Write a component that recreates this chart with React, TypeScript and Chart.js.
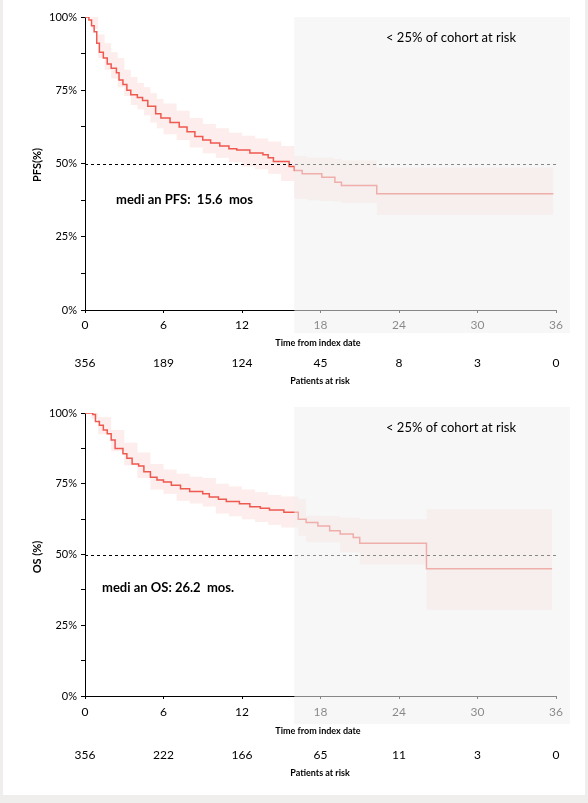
import React, { useEffect, useRef } from 'react';
import { Chart, registerables } from 'chart.js';

Chart.register(...registerables);

const FONT = 'Lato, "Open Sans", sans-serif';

const xTicks = [0, 6, 12, 18, 24, 30, 36];
const yTicks = [0, 12.5, 25, 37.5, 50, 62.5, 75, 87.5, 100];

// PFS Kaplan-Meier (months, %)
const pfsTime = [0, 0.3, 0.5, 0.7, 0.9, 1.1, 1.4, 1.7, 2.0, 2.4, 2.6, 2.9, 3.2, 3.5, 4.0, 4.4, 4.8, 5.4, 5.8, 6.5, 7.2, 7.8, 8.4, 9.0, 9.6, 10.3, 11.0, 11.6, 12.6, 13.6, 14.0, 14.4, 15.6, 16.0, 16.6, 18.1, 19.1, 19.6, 22.3, 35.8];
const pfsSurv = [100, 99, 97, 95, 91, 88, 86, 84, 82.5, 81, 78.5, 77, 75, 73.5, 72.5, 71.5, 69.5, 67, 65.5, 64, 62.5, 60.8, 59.2, 58, 57, 56, 55, 54.6, 53.6, 53, 52, 50.7, 49, 47.6, 46.5, 45.3, 43.6, 42.5, 39.7, 39.7];
const pfsCiTime = [0, 0.5, 1.0, 1.5, 2.0, 2.5, 3.0, 3.5, 4.0, 4.5, 5.0, 5.5, 6.0, 7.0, 8.0, 9.0, 10.0, 11.0, 12.0, 13.0, 14.0, 15.0, 16.0, 17.0, 18.0, 19.0, 19.6, 22.3, 35.8];
const pfsUpper = [100, 100, 94, 91, 88, 86, 82, 79.5, 77.5, 76, 74, 72, 70.5, 68, 65.5, 63.5, 62, 60.5, 59.5, 58.5, 57.5, 56, 52.5, 52, 52, 51.5, 51, 48.6, 48.6];
const pfsLower = [100, 96, 86, 82, 79, 76, 73, 70, 68.5, 66.5, 64, 62, 60, 58, 55.5, 53.5, 52, 50.5, 49, 48, 46.5, 44, 38, 37.5, 37.2, 37, 36.5, 32.5, 32.5];
const pfsAtRisk = [356, 189, 124, 45, 8, 3, 0];

// OS Kaplan-Meier (months, %)
const osTime = [0, 0.6, 0.8, 1.1, 1.4, 1.7, 2.0, 2.3, 2.9, 3.2, 3.6, 4.1, 4.5, 5.0, 5.5, 6.0, 6.6, 7.3, 8.0, 9.0, 9.5, 10.2, 10.8, 11.8, 12.6, 13.4, 14.1, 15.2, 16.3, 16.9, 17.8, 18.7, 19.5, 20.5, 21.0, 26.1, 35.7];
const osSurv = [100, 99.5, 97, 95.7, 94, 92.7, 90.5, 87.5, 85.6, 84, 82, 81.3, 79.2, 77.3, 76.3, 75.6, 74.5, 73.2, 72.3, 71.5, 70.3, 69.5, 68.7, 67.9, 66.9, 66.3, 65.7, 64.9, 62.5, 61.3, 60.1, 58.4, 57.2, 56, 54, 45, 45];
const osCiTime = [0, 0.5, 1.0, 2.0, 3.0, 4.0, 5.0, 6.0, 7.0, 8.0, 9.0, 10.0, 11.0, 12.0, 13.0, 14.0, 15.0, 16.3, 16.9, 18.0, 19.5, 21.0, 26.1, 35.7];
const osUpper = [100, 100, 98.5, 94, 89.5, 86, 82, 80, 78.5, 77.5, 77, 75, 74, 73, 72, 71, 70.5, 69.6, 63.7, 63.5, 63, 62.5, 66, 66];
const osLower = [100, 98, 92.5, 86.5, 81.5, 77, 73, 71.5, 69, 68, 67, 64.5, 63.5, 62.5, 61.5, 60.5, 59.5, 56.6, 54.3, 54.3, 50.8, 46.5, 30.5, 30.5];
const osAtRisk = [356, 222, 166, 65, 11, 3, 0];

const LINE = '#f05a50';
const BAND = 'rgba(240,90,80,0.11)';

type Cfg = {
  top: number;
  height: number;
  areaTop: number;
  areaBottom: number;
  time: number[];
  surv: number[];
  ciTime: number[];
  upper: number[];
  lower: number[];
  atRisk: number[];
  yTitle: string;
  median: string;
  medianX: number;
  medianY: number;
  yTitleY: number;
  xTitleY: number;
  riskY: number;
  riskTitleY: number;
  noteY: number;
  overlayTop: number;
  overlayBottom: number;
  tickPad: number;
};

const pts = (xs: number[], ys: number[]) => xs.map((x, i) => ({ x, y: ys[i] }));

function KM({ cfg }: { cfg: Cfg }) {
  const ref = useRef<HTMLCanvasElement | null>(null);
  useEffect(() => {
    if (!ref.current) return;
    const deco = {
      id: 'deco',
      afterDatasetsDraw(chart: any) {
        const { ctx, chartArea, scales } = chart;
        const y50 = scales.y.getPixelForValue(50);
        ctx.save();
        ctx.strokeStyle = '#000';
        ctx.lineWidth = 1;
        ctx.setLineDash([3, 3]);
        ctx.beginPath();
        ctx.moveTo(chartArea.left, Math.round(y50) + 0.5);
        ctx.lineTo(chartArea.right, Math.round(y50) + 0.5);
        ctx.stroke();
        ctx.restore();
      },
      afterDraw(chart: any) {
        const { ctx, chartArea, scales } = chart;
        const xs = scales.x;
        ctx.save();
        // overlay for < 25% at risk region
        const ox = xs.getPixelForValue(16);
        ctx.fillStyle = 'rgba(240,240,240,0.56)';
        ctx.fillRect(ox, cfg.overlayTop, chartArea.right + 14 - ox, cfg.overlayBottom - cfg.overlayTop);

        ctx.fillStyle = '#000';
        ctx.textBaseline = 'middle';
        ctx.textAlign = 'left';
        ctx.font = `13px ${FONT}`;
        ctx.fillText('< 25% of cohort at risk', 386, cfg.noteY);
        ctx.font = `bold 13px ${FONT}`;
        ctx.fillText(cfg.median, cfg.medianX, cfg.medianY);
        ctx.textAlign = 'center';
        ctx.font = `bold 9px ${FONT}`;
        ctx.fillText('Time from index date', 318, cfg.xTitleY);
        ctx.fillText('Patients at risk', 320, cfg.riskTitleY);
        ctx.font = `12px ${FONT}`;
        xTicks.forEach((t, i) => {
          ctx.fillText(String(cfg.atRisk[i]), xs.getPixelForValue(t), cfg.riskY);
        });
        ctx.translate(37, cfg.yTitleY);
        ctx.rotate(-Math.PI / 2);
        ctx.font = `bold 11px ${FONT}`;
        ctx.fillText(cfg.yTitle, 0, 0);
        ctx.restore();
      },
    };
    const chart = new Chart(ref.current, {
      type: 'line',
      data: {
        datasets: [
          {
            data: pts(cfg.ciTime, cfg.upper),
            borderWidth: 0,
            borderColor: 'rgba(0,0,0,0)',
            pointRadius: 0,
            stepped: 'before',
            fill: false,
          },
          {
            data: pts(cfg.ciTime, cfg.lower),
            borderWidth: 0,
            borderColor: 'rgba(0,0,0,0)',
            backgroundColor: BAND,
            pointRadius: 0,
            stepped: 'before',
            fill: '-1',
          },
          {
            data: pts(cfg.time, cfg.surv),
            borderColor: LINE,
            borderWidth: 1.5,
            pointRadius: 0,
            stepped: 'before',
            fill: false,
          },
        ],
      } as any,
      options: {
        animation: false,
        responsive: false,
        maintainAspectRatio: false,
        layout: { padding: { top: cfg.areaTop, right: 32, left: 0, bottom: 0 } },
        plugins: { legend: { display: false }, tooltip: { enabled: false } },
        scales: {
          x: {
            type: 'linear',
            min: 0,
            max: 36,
            afterBuildTicks: (s: any) => {
              s.ticks = xTicks.map((v) => ({ value: v }));
            },
            afterFit: (s: any) => {
              s.height = cfg.height - cfg.areaBottom;
            },
            grid: { drawOnChartArea: false, drawTicks: true, tickLength: 3, color: '#000' },
            border: { display: true, color: '#000', width: 1 },
            ticks: {
              color: '#000',
              font: { family: FONT, size: 12 },
              padding: cfg.tickPad,
              maxRotation: 0,
              autoSkip: false,
            },
          },
          y: {
            type: 'linear',
            min: 0,
            max: 100,
            afterBuildTicks: (s: any) => {
              s.ticks = yTicks.map((v) => ({ value: v }));
            },
            afterFit: (s: any) => {
              s.width = 85;
            },
            grid: { drawOnChartArea: false, drawTicks: true, tickLength: 4, color: '#000' },
            border: { display: true, color: '#000', width: 1 },
            ticks: {
              color: '#000',
              font: { family: FONT, size: 11 },
              padding: 4,
              autoSkip: false,
              callback: (v: any) => (Number(v) % 25 === 0 ? `${v}%` : ''),
            },
          },
        },
      } as any,
      plugins: [deco],
    });
    return () => chart.destroy();
  }, [cfg]);
  return (
    <canvas
      ref={ref}
      width={588}
      height={cfg.height}
      style={{ position: 'absolute', left: 0, top: cfg.top, width: 588, height: cfg.height }}
    />
  );
}

const pfsCfg: Cfg = {
  top: 0,
  height: 395,
  areaTop: 17,
  areaBottom: 310,
  time: pfsTime,
  surv: pfsSurv,
  ciTime: pfsCiTime,
  upper: pfsUpper,
  lower: pfsLower,
  atRisk: pfsAtRisk,
  yTitle: 'PFS(%)',
  median: 'medi an PFS:  15.6  mos',
  medianX: 116,
  medianY: 200,
  yTitleY: 165,
  xTitleY: 343,
  riskY: 363,
  riskTitleY: 381,
  noteY: 38,
  overlayTop: 17,
  overlayBottom: 333,
  tickPad: 5,
};

const osCfg: Cfg = {
  top: 395,
  height: 400,
  areaTop: 18,
  areaBottom: 301,
  time: osTime,
  surv: osSurv,
  ciTime: osCiTime,
  upper: osUpper,
  lower: osLower,
  atRisk: osAtRisk,
  yTitle: 'OS (%)',
  median: 'medi an OS: 26.2  mos.',
  medianX: 102,
  medianY: 193,
  yTitleY: 162,
  xTitleY: 336,
  riskY: 360,
  riskTitleY: 378,
  noteY: 33,
  overlayTop: 12,
  overlayBottom: 329,
  tickPad: 6,
};

export default function App() {
  return (
    <div style={{ position: 'fixed', left: 0, top: 0, width: 588, height: 803, background: '#efeeec', overflow: 'hidden' }}>
      <div style={{ position: 'absolute', left: 3, top: 0, width: 582, height: 795, background: '#ffffff' }} />
      <KM cfg={pfsCfg} />
      <KM cfg={osCfg} />
    </div>
  );
}
